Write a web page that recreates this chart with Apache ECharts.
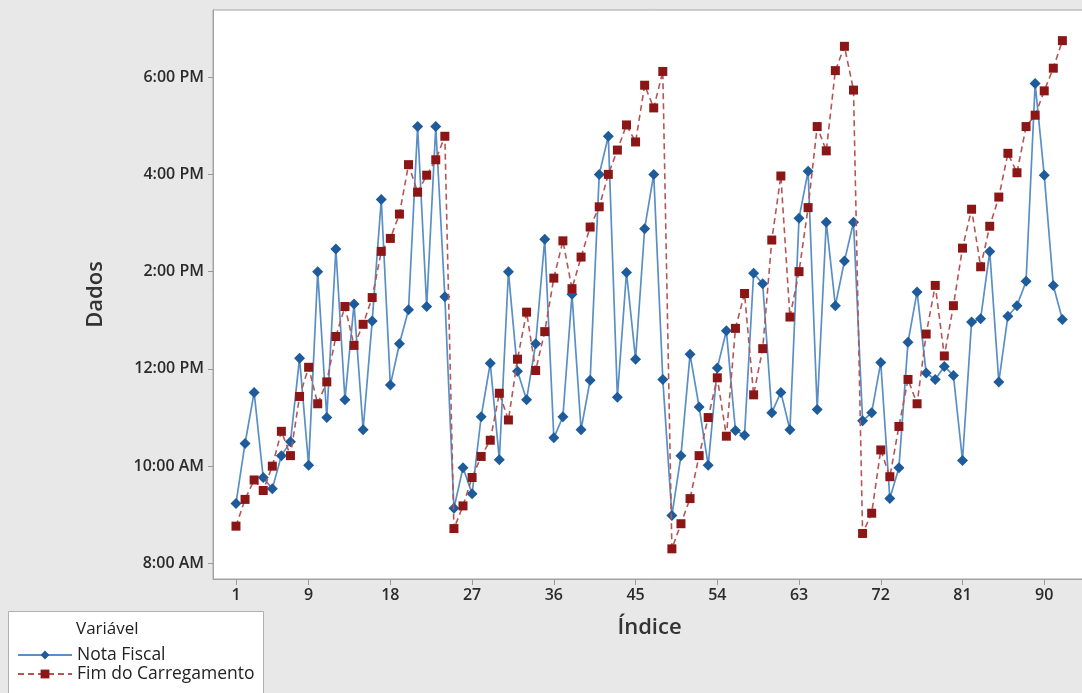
<!DOCTYPE html>
<html><head><meta charset="utf-8">
<script src="https://cdn.jsdelivr.net/npm/echarts@6/dist/echarts.min.js"></script>
<style>html,body{margin:0;padding:0;background:#e8e8e8;overflow:hidden}#c{width:1100px;height:693px}</style>
</head><body><div id="c"></div>
<script>
// Values (HH:MM, 24h clock)
const notaFiscal = [
 '9:14','10:28','11:31','9:46','9:32','10:13','10:30','12:13','10:01','14:00',
 '11:00','14:28','11:22','13:20','10:45','12:59','15:29','11:40','12:31','13:13',
 '16:59','13:17','16:59','13:29','9:08','9:58','9:26','11:01','12:07','10:08',
 '14:00','11:57','11:22','12:31','14:40','10:35','11:01','13:32','10:45','11:46',
 '16:00','16:47','11:25','13:59','12:12','14:53','16:00','11:47','8:59','10:13',
 '12:18','11:13','10:01','12:01','12:47','10:44','10:38','13:58','13:45','11:06',
 '11:31','10:45','15:06','16:04','11:10','15:01','13:18','14:13','15:01','10:56',
 '11:06','12:08','9:20','9:58','12:33','13:35','11:55','11:47','12:03','11:52',
 '10:07','12:58','13:02','14:25','11:44','13:05','13:18','13:48','17:52','15:59',
 '13:43','13:01'];
const fimCarregamento = [
 '8:46','9:19','9:43','9:30','10:00','10:43','10:13','11:26','12:02','11:17',
 '11:44','12:40','13:17','12:29','12:55','13:28','14:25','14:41','15:11','16:12',
 '15:38','15:59','16:18','16:47','8:43','9:11','9:46','10:12','10:32','11:30',
 '10:57','12:12','13:10','11:58','12:46','13:52','14:38','13:39','14:18','14:55',
 '15:20','16:00','16:30','17:01','16:40','17:50','17:22','18:07','8:18','8:49',
 '9:20','10:13','11:00','11:49','10:37','12:50','13:33','11:28','12:25','14:39',
 '15:58','13:04','14:00','15:19','16:59','16:29','18:08','18:38','17:44','8:37',
 '9:02','10:20','9:47','10:49','11:47','11:17','12:43','13:43','12:16','13:18',
 '14:29','15:17','14:06','14:56','15:32','16:26','16:02','16:59','17:13','17:43',
 '18:11','18:45'];
const seriesNames = ['Nota Fiscal', 'Fim do Carregamento'];
const xTicks = [1, 9, 18, 27, 36, 45, 54, 63, 72, 81, 90];
const yTicks = [8, 10, 12, 14, 16, 18];
const legendTitle = 'Variável';
const xName = 'Índice';
const yName = 'Dados';

function toHours(s){ const p = s.split(':').map(Number); return p[0] + p[1]/60; }
function fmtHour(h){
  const ap = h >= 12 ? 'PM' : 'AM';
  let hh = h % 12; if (hh === 0) hh = 12;
  return hh + ':00 ' + ap;
}
function pairs(arr){ return arr.map((s,i)=>[i+1, toHours(s)]); }

const FONT = '"Open Sans", "Noto Sans", sans-serif';
const chart = echarts.init(document.getElementById('c'), null, {renderer:'canvas'});
chart.setOption({
  animation: false,
  backgroundColor: '#e8e8e8',
  grid: { left: 213, top: 10, right: 14, bottom: 114, show: true,
          backgroundColor: '#ffffff', borderColor: '#a3a3a3', borderWidth: 1 },
  xAxis: {
    type: 'value', min: -1.53, max: 94.6,
    name: xName, nameLocation: 'middle', nameGap: 38, nameTextStyle: { fontFamily: FONT, fontSize: 22, fontWeight: 600, color: '#333' },
    axisLine: { show: true, onZero: false, lineStyle: { color: '#a3a3a3' } },
    axisTick: { show: true, length: 6, lineStyle: { color: '#999' }, customValues: xTicks },
    axisLabel: { customValues: xTicks, margin: 8, fontFamily: FONT, fontSize: 16,
                 fontWeight: 600, color: '#2b2b2b' },
    splitLine: { show: false }
  },
  yAxis: {
    type: 'value', min: 7.68, max: 19.38,
    name: yName, nameLocation: 'middle', nameGap: 106, nameRotate: 90,
    nameTextStyle: { fontFamily: FONT, fontSize: 22, fontWeight: 600, color: '#333' },
    axisLine: { show: true, onZero: false, lineStyle: { color: '#a3a3a3' } },
    axisTick: { show: true, length: 5, lineStyle: { color: '#999' }, customValues: yTicks },
    axisLabel: { customValues: yTicks, margin: 9, fontFamily: FONT, fontSize: 16,
                 fontWeight: 600, color: '#2b2b2b', formatter: v => fmtHour(v) },
    splitLine: { show: false }
  },
  legend: {
    orient: 'vertical', left: 12, top: 641, itemGap: 1,
    itemWidth: 54, itemHeight: 11,
    textStyle: { fontFamily: FONT, fontSize: 17.5, color: '#222', padding: [0,0,0,0] },
    data: seriesNames
  },
  graphic: [
    { type: 'rect', left: 8, top: 611, z: -1,
      shape: { width: 255, height: 92 },
      style: { fill: '#ffffff', stroke: '#b0b0b0', lineWidth: 1 } },
    { type: 'text', left: 76, top: 621, z: 10,
      style: { text: legendTitle, fontFamily: FONT, fontSize: 17, fill: '#222' } }
  ],
  series: [
    { name: seriesNames[0], type: 'line', data: pairs(notaFiscal),
      symbol: 'diamond', symbolSize: 11, z: 2,
      lineStyle: { color: '#5a8fc6', width: 1.7 },
      itemStyle: { color: '#1d5b9b' } },
    { name: seriesNames[1], type: 'line', data: pairs(fimCarregamento),
      symbol: 'rect', symbolSize: 9, z: 3,
      lineStyle: { color: '#b55555', width: 1.6, type: [6, 4] },
      itemStyle: { color: '#8c1616' } }
  ]
});
</script></body></html>
